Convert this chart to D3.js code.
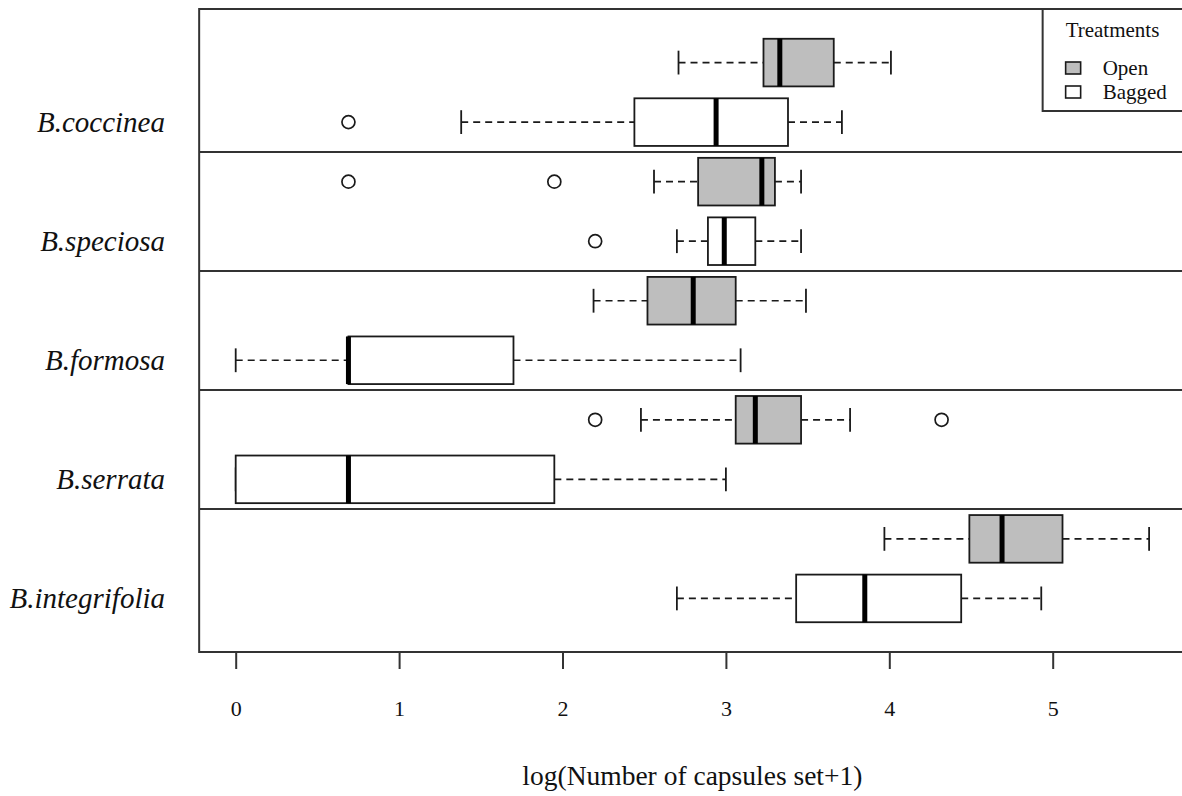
<!DOCTYPE html>
<html>
<head>
<meta charset="utf-8">
<script src="https://cdn.jsdelivr.net/npm/d3@7"></script>
<style>
	html, body { margin: 0; padding: 0; background: #fff; }
	svg { display: block; font-family: "Liberation Serif", "Times New Roman", serif; }
</style>
</head>
<body>
<div id="grafica"></div>
<script>
// species from top to bottom
var especies = ['B.coccinea', 'B.speciosa', 'B.formosa', 'B.serrata', 'B.integrifolia'];
var tratamientos = ['Open', 'Bagged'];

// [lower whisker, Q1, median, Q3, upper whisker]
var statsOpen = [
	[2.71, 3.23, 3.33, 3.66, 4.01],
	[2.56, 2.83, 3.22, 3.30, 3.46],
	[2.19, 2.52, 2.80, 3.06, 3.49],
	[2.48, 3.06, 3.18, 3.46, 3.76],
	[3.97, 4.49, 4.69, 5.06, 5.59]
];
var statsBagged = [
	[1.38, 2.44, 2.94, 3.38, 3.71],
	[2.70, 2.89, 2.99, 3.18, 3.46],
	[0.00, 0.69, 0.69, 1.70, 3.09],
	[0.00, 0.00, 0.69, 1.95, 3.00],
	[2.70, 3.43, 3.85, 4.44, 4.93]
];
var outliersOpen = [[], [0.69, 1.95], [], [2.20, 4.32], []];
var outliersBagged = [[0.69], [2.20], [], [], []];
var xTicks = [0, 1, 2, 3, 4, 5];

var W = 1182, H = 796;
var m = {t: 9, b: 144, l: 199};

var x = d3.scaleLinear().domain([0, 5]).range([235.7, 1052.7]);
var xMin = -0.2236, xMax = 5.8136;
var y = d3.scaleLinear().domain([0.1, 10.9]).range([H - m.b, m.t]);
var boxwex = 0.8, staple = 0.4;

var g = d3.select('#grafica').append('svg')
	.attr('width', W)
	.attr('height', H);

var data = [];
especies.forEach(function(nombre, i) {
	data.push({sp: nombre, trat: 'Open', pos: 10 - 2 * i, s: statsOpen[i], out: outliersOpen[i]});
	data.push({sp: nombre, trat: 'Bagged', pos: 9 - 2 * i, s: statsBagged[i], out: outliersBagged[i]});
});

var relleno = {Open: '#bebebe', Bagged: '#ffffff'};
var tinta = '#1a1a1a';

var cajas = g.selectAll('.caja').data(data)
	.enter().append('g')
	.attr('class', 'caja');

// whiskers
cajas.append('line')
	.attr('x1', function(d) { return x(d.s[0]); })
	.attr('x2', function(d) { return x(d.s[1]); })
	.attr('y1', function(d) { return y(d.pos); })
	.attr('y2', function(d) { return y(d.pos); })
	.attr('stroke', tinta).attr('stroke-width', 1.7)
	.attr('stroke-dasharray', '7,5');
cajas.append('line')
	.attr('x1', function(d) { return x(d.s[3]); })
	.attr('x2', function(d) { return x(d.s[4]); })
	.attr('y1', function(d) { return y(d.pos); })
	.attr('y2', function(d) { return y(d.pos); })
	.attr('stroke', tinta).attr('stroke-width', 1.7)
	.attr('stroke-dasharray', '7,5');
// staples
[0, 4].forEach(function(k) {
	cajas.append('line')
		.attr('x1', function(d) { return x(d.s[k]); })
		.attr('x2', function(d) { return x(d.s[k]); })
		.attr('y1', function(d) { return y(d.pos + staple / 2); })
		.attr('y2', function(d) { return y(d.pos - staple / 2); })
		.attr('stroke', tinta).attr('stroke-width', 1.8);
});
// box
cajas.append('rect')
	.attr('x', function(d) { return x(d.s[1]); })
	.attr('y', function(d) { return y(d.pos + boxwex / 2); })
	.attr('width', function(d) { return x(d.s[3]) - x(d.s[1]); })
	.attr('height', function(d) { return y(d.pos - boxwex / 2) - y(d.pos + boxwex / 2); })
	.attr('fill', function(d) { return relleno[d.trat]; })
	.attr('stroke', tinta).attr('stroke-width', 1.8);
// median
cajas.append('line')
	.attr('x1', function(d) { return x(d.s[2]); })
	.attr('x2', function(d) { return x(d.s[2]); })
	.attr('y1', function(d) { return y(d.pos + boxwex / 2); })
	.attr('y2', function(d) { return y(d.pos - boxwex / 2); })
	.attr('stroke', '#000').attr('stroke-width', 5);
// outliers
cajas.selectAll('.atipico').data(function(d) { return d.out.map(function(v) { return {v: v, pos: d.pos}; }); })
	.enter().append('circle')
	.attr('class', 'atipico')
	.attr('cx', function(d) { return x(d.v); })
	.attr('cy', function(d) { return y(d.pos); })
	.attr('r', 6.5)
	.attr('fill', 'none')
	.attr('stroke', tinta).attr('stroke-width', 1.7);

// group separators
g.selectAll('.separador').data([8.5, 6.5, 4.5, 2.5])
	.enter().append('line')
	.attr('class', 'separador')
	.attr('x1', x(xMin)).attr('x2', x(xMax))
	.attr('y1', function(d) { return y(d); })
	.attr('y2', function(d) { return y(d); })
	.attr('stroke', '#333').attr('stroke-width', 2);

// frame
g.append('rect')
	.attr('x', x(xMin)).attr('y', y(10.9))
	.attr('width', x(xMax) - x(xMin))
	.attr('height', y(0.1) - y(10.9))
	.attr('fill', 'none')
	.attr('stroke', '#333').attr('stroke-width', 2);

// species labels
g.selectAll('.especie').data(especies)
	.enter().append('text')
	.attr('class', 'especie')
	.attr('x', 165)
	.attr('y', function(d, i) { return y(9 - 2 * i) + 10; })
	.attr('text-anchor', 'end')
	.attr('font-style', 'italic')
	.attr('font-size', 29)
	.attr('fill', '#111')
	.text(function(d) { return d; });

// x axis
var eje = g.append('g')
	.attr('transform', 'translate(0,' + y(0.1) + ')')
	.call(d3.axisBottom(x).tickValues(xTicks).tickSize(17).tickPadding(31).tickFormat(d3.format('d')));
eje.select('.domain').remove();
eje.selectAll('line').attr('stroke', '#333').attr('stroke-width', 2);
eje.selectAll('text')
	.attr('font-family', '"Liberation Serif", serif')
	.attr('font-size', 22)
	.attr('fill', '#111');

g.append('text')
	.attr('x', (x(xMin) + x(xMax)) / 2)
	.attr('y', 785)
	.attr('text-anchor', 'middle')
	.attr('font-size', 27.5)
	.attr('fill', '#111')
	.text('log(Number of capsules set+1)');

// legend
var legW = 143, legH = 102;
var leg = g.append('g')
	.attr('transform', 'translate(' + (x(xMax) - legW) + ',' + y(10.9) + ')');
leg.append('rect')
	.attr('width', legW).attr('height', legH)
	.attr('fill', '#fff')
	.attr('stroke', '#333').attr('stroke-width', 2);
leg.append('text')
	.attr('x', 23).attr('y', 28)
	.attr('font-size', 21)
	.attr('fill', '#111')
	.text('Treatments');
var filas = leg.selectAll('.fila').data(tratamientos)
	.enter().append('g')
	.attr('class', 'fila')
	.attr('transform', function(d, i) { return 'translate(0,' + (59 + i * 24) + ')'; });
filas.append('rect')
	.attr('x', 23).attr('y', -6)
	.attr('width', 15).attr('height', 12)
	.attr('fill', function(d) { return relleno[d]; })
	.attr('stroke', tinta).attr('stroke-width', 1.6);
filas.append('text')
	.attr('x', 60).attr('y', 7)
	.attr('font-size', 21)
	.attr('fill', '#111')
	.text(function(d) { return d; });
</script>
</body>
</html>
